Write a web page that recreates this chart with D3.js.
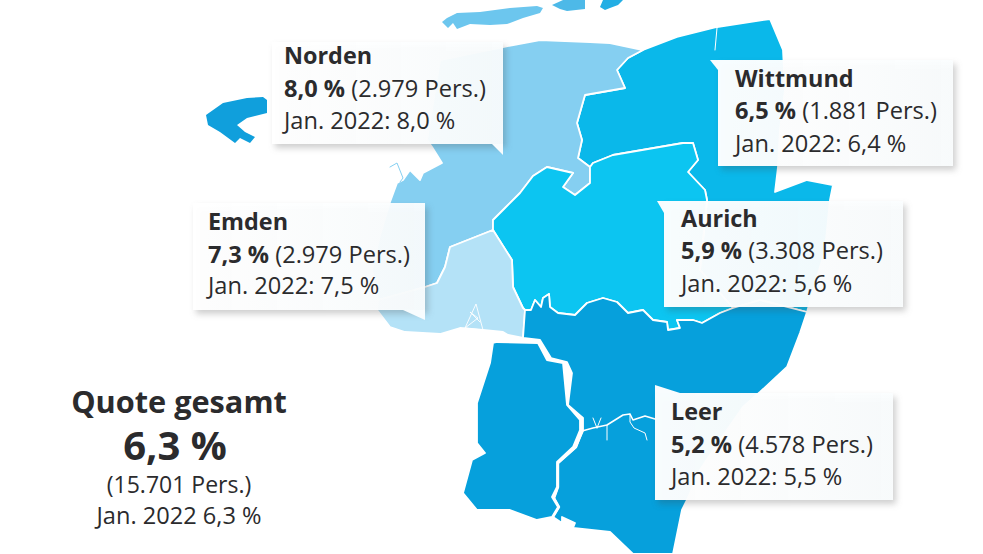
<!DOCTYPE html>
<html lang="de"><head><meta charset="utf-8">
<script src="https://d3js.org/d3.v7.min.js"></script>
<style>html,body{margin:0;background:#fff}svg{display:block}
text{font-family:"Open Sans",sans-serif;fill:#2b2b2d}</style></head><body>
<svg id="c" width="983" height="554"></svg>
<script>
// ---- data ----
const districts = ["Norden","Emden","Wittmund","Aurich","Leer"];
const rates     = ["8,0","7,3","6,5","5,9","5,2"];
const persons   = ["2.979","2.979","1.881","3.308","4.578"];
const previous  = ["8,0","7,5","6,4","5,6","5,5"];
const total = {title:"Quote gesamt", rate:"6,3", persons:"15.701", previous:"6,3"};
const fills = ["#85cff1","#b4e2f7","#0ab8ea","#0cc5f1","#06a0dc"];

// Map geometry (planar map units)
const norden = [[503,47],[540,40],[590,42],[610,43],[643,50],[628,58],[617,70],[625,88],[585,95],[577,123],[582,140],[578,158],[590,167],[590,183],[575,195],[563,187],[573,173],[547,167],[533,176],[520,193],[505,208],[493,220],[493,230],[450,247],[445,267],[437,283],[425,287],[378,300],[372,270],[380,235],[390,202],[397,183],[403,180],[410,170],[420,180],[423,173],[442,163],[432,147],[427,140],[440,60]];
const emden  = [[493,230],[512,260],[513,287],[523,308],[525,310],[523,338],[508,335],[503,332],[483,330],[460,328],[440,334],[405,332],[390,327],[377,310],[378,300],[425,287],[437,283],[445,267],[450,247]];
const wittmund = [[643,50],[677,37],[717,27],[770,19],[783,50],[785,90],[780,130],[778,167],[775,192],[807,180],[833,185],[830,200],[825,250],[807,312],[760,300],[733,308],[700,270],[707,200],[705,190],[688,172],[698,160],[693,143],[683,143],[613,155],[593,163],[590,167],[578,158],[582,140],[577,123],[585,95],[625,88],[617,70],[628,58]];
const aurich = [[590,167],[593,163],[613,155],[683,143],[693,143],[698,160],[688,172],[705,190],[707,200],[700,270],[733,308],[720,313],[702,323],[693,320],[677,320],[680,328],[668,330],[667,322],[653,320],[643,310],[628,313],[617,302],[603,298],[587,303],[575,315],[558,313],[550,307],[549,294],[543,298],[541,307],[535,300],[531,310],[525,310],[523,308],[513,287],[512,260],[493,230],[493,220],[505,208],[520,193],[533,176],[547,167],[573,173],[563,187],[575,195],[590,183]];
const leerEast = [[525,310],[523,338],[540,340],[551,358],[567,362],[572,373],[568,405],[583,418],[583,431],[576,447],[558,463],[558,487],[554,498],[559,507],[553,517],[562,523],[562,517],[575,523],[573,528],[610,532],[633,554],[673,554],[682,510],[687,500],[700,470],[720,440],[743,407],[760,392],[787,367],[800,333],[807,312],[760,300],[733,308],[720,313],[702,323],[693,320],[677,320],[680,328],[668,330],[667,322],[653,320],[643,310],[628,313],[617,302],[603,298],[587,303],[575,315],[558,313],[550,307],[549,294],[543,298],[541,307],[535,300],[531,310]];
const rheiderland = [[497,342],[538,343],[547,360],[563,363],[567,405],[580,420],[580,430],[573,447],[557,462],[557,487],[552,497],[558,507],[552,517],[537,520],[510,510],[477,510],[463,493],[472,460],[485,453],[477,443],[477,403],[490,363],[493,343]];
const borkum = [[206,115],[223,103],[247,98],[263,97],[267,100],[267,113],[247,118],[237,125],[245,132],[255,137],[250,143],[240,138],[235,143],[220,132],[208,125]];
const juist  = [[442,22],[447,18],[457,13],[480,12],[510,8],[537,6],[543,8],[540,13],[523,18],[507,24],[490,25],[470,24],[457,29],[453,23],[448,28]];
const norderney = [[552,5],[563,0],[585,0],[585,9],[567,11],[560,9]];
const baltrum = [[600,7],[603,0],[623,0],[618,5],[610,8],[605,10]];
const ems  = [[540,341],[549,359],[565,363],[570,373],[568,405],[582,418],[582,431],[576,447],[558,463],[558,487],[554,498],[559,507],[553,517]];
const leda = [[582,431],[593,428],[607,425],[623,415],[630,414],[633,420],[645,416],[655,419]];
const creeks = [[[630,414],[630,422],[634,428],[645,433],[647,440]],[[607,425],[607,440]],[[593,418],[597,428]],[[601,418],[597,428]],[[717,28],[715,50]]];
const harbour = [[465,328],[476,304],[483,330],[465,328],[478,318],[470,312],[480,322]];
const inlet = [[390,167],[397,163],[403,178],[400,182]];

// GeoJSON rings must repeat their first vertex
const poly = c=>({type:"Polygon",coordinates:[[...c,c[0]]]});
const projection = d3.geoIdentity();
const path = d3.geoPath(projection);
const svg = d3.select("#c");
const colour = d3.scaleOrdinal(districts, fills);

// islands
svg.selectAll("path.island").data([[borkum,"#109fdc"],[juist,"#6cc6ee"],[norderney,"#4db9e8"],[baltrum,"#23aee4"]])
  .join("path").attr("class","island")
  .attr("d",d=>path(poly(d[0]))).attr("fill",d=>d[1]);

// districts
const shapes = [["Wittmund",wittmund],["Norden",norden],["Aurich",aurich],["Emden",emden],["Leer",leerEast],["Leer",rheiderland]];
svg.selectAll("path.district").data(shapes).join("path").attr("class","district")
  .attr("d",d=>path(poly(d[1])))
  .attr("fill",d=>colour(d[0])).attr("stroke","#fff").attr("stroke-width",1.8).attr("stroke-linejoin","round");

// rivers
const line = (c,w,col="#fff")=>svg.append("path").attr("d",path({type:"LineString",coordinates:c})).attr("fill","none")
  .attr("stroke",col).attr("stroke-width",w).attr("stroke-linejoin","round").attr("stroke-linecap","round");
line(ems.slice(5),2.4); line(leda,1.6);
creeks.forEach(c=>line(c,1)); line(harbour,.9); line(inlet,1,fills[0]);

// label boxes
const layout = {
 Norden:  {box:[272,42,503,144], tip:[[503,144],[503,155],[492,144]], x:284, y:[64,97,129]},
 Emden:   {box:[193,203,425,310],tip:[[425,310],[425,320],[403,310]], x:208, y:[230,263,294]},
 Wittmund:{box:[718,60,953,166], tip:[[718,60],[710,60],[718,70]],    x:735, y:[87,119,152]},
 Aurich:  {box:[664,201,903,307],tip:[[664,201],[657,201],[664,213]], x:681, y:[227,259,292]},
 Leer:    {box:[655,393,893,500],tip:[[655,393],[655,385],[680,393]], x:671, y:[420,453,485]}
};
const defs = svg.append("defs");
const grad = defs.append("linearGradient").attr("id","boxfill");
grad.append("stop").attr("offset","0").attr("stop-color","#fff").attr("stop-opacity",.97);
grad.append("stop").attr("offset","1").attr("stop-color","#fafdfe").attr("stop-opacity",.95);

districts.forEach((name,i)=>{
  const l = layout[name], [x0,y0,x1,y1] = l.box;
  const g = svg.append("g");
  g.append("rect").attr("x",x0).attr("y",y0).attr("width",x1-x0).attr("height",y1-y0)
    .attr("fill","url(#boxfill)").style("filter","drop-shadow(3px 4px 3px rgba(60,60,60,.26))");
  g.append("path").attr("d",d3.line()(l.tip)+"Z").attr("fill","#f8fcfe");
  g.append("text").attr("x",l.x).attr("y",l.y[0]).attr("font-size",23.4).attr("font-weight",700).text(name);
  const t = g.append("text").attr("x",l.x).attr("y",l.y[1]).attr("font-size",23.6);
  t.append("tspan").attr("font-weight",700).text(rates[i]+" %");
  t.append("tspan").text(" ("+persons[i]+" Pers.)");
  g.append("text").attr("x",l.x).attr("y",l.y[2]).attr("font-size",23.6).text("Jan. 2022: "+previous[i]+" %");
});

// total block
[[total.title,179,413,30.7,700],[total.rate+" %",175,460,40,700],["("+total.persons+" Pers.)",179,493,23,400],["Jan. 2022 "+total.previous+" %",179,524,23.6,400]]
 .forEach(d=>svg.append("text").attr("x",d[1]).attr("y",d[2]).attr("text-anchor","middle")
   .attr("font-size",d[3]).attr("font-weight",d[4]).text(d[0]));
</script></body></html>
